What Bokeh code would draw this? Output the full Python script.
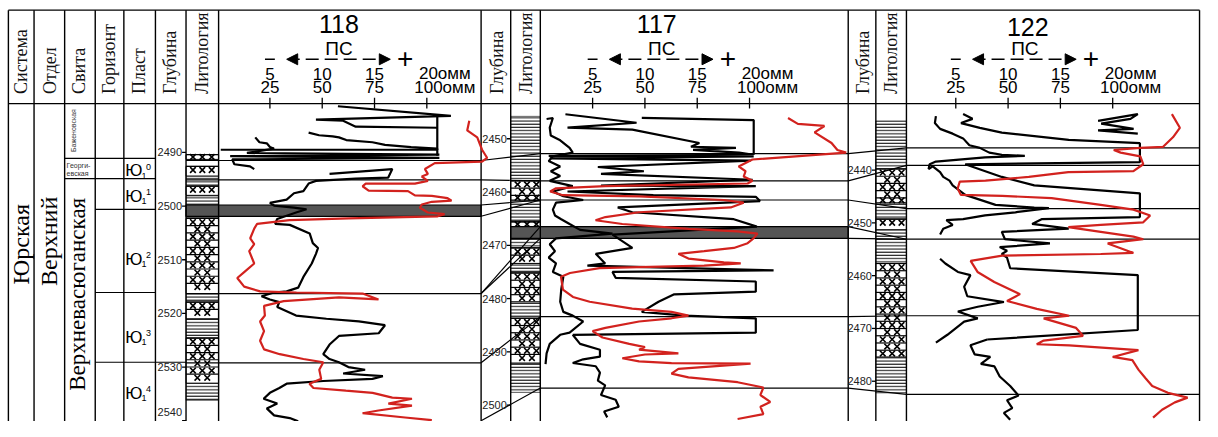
from math import pi
from bokeh.plotting import figure
from bokeh.models import Range1d, Arrow, NormalHead
from bokeh.core.properties import value
from bokeh.embed import file_html
from bokeh.resources import INLINE

# ------------------------------------------------------------------ data
LEFT_HEADERS = ["Система", "Отдел", "Свита", "Горизонт", "Пласт", "Глубина", "Литология"]
WELL_HEADERS = ["Глубина", "Литология"]
WELLS = ["118", "117", "122"]
SCALE_PS = [5, 10, 15, 20]
SCALE_TOP_LABELS = ["5", "10", "15", "20омм"]
SCALE_BOT_LABELS = ["25", "50", "75", "100омм"]
PS_LABEL = "ПС"

SYSTEM_NAME = "Юрская"
SERIES_NAME = "Верхний"
SUITE_NAMES = ["Баженовская", "Георги-", "евская", "Верхневасюганская"]
SUITE_BOUNDS_118 = [2491.1, 2494.9]
PLAST_BOUNDS_118 = [2500.6, 2516.1]
PLAST_BOUND_LOW_118 = [2529.1]
PLAST_INDEX = ["0", "1", "2", "3", "4"]
PLAST_LABEL_DEPTH_118 = [2493.4, 2498.2, 2509.9, 2524.4, 2534.9]

DEPTH_TICKS = {
    "118": [2490, 2500, 2510, 2520, 2530, 2540],
    "117": [2450, 2460, 2470, 2480, 2490, 2500],
    "122": [2440, 2450, 2460, 2470, 2480],
}

SAND = {
    "118": [(2490.4, 2491.3), (2492.6, 2494.4), (2496.3, 2498.0), (2502.3, 2516.3), (2517.9, 2521.0), (2524.6, 2533.0)],
    "117": [(2457.9, 2461.5), (2465.6, 2466.5), (2470.5, 2473.4), (2475.2, 2480.6), (2483.7, 2492.1)],
    "122": [(2439.8, 2446.2), (2449.3, 2451.3), (2457.7, 2475.4)],
}
SHALE = {
    "118": [(2494.4, 2496.2), (2498.1, 2502.1), (2516.3, 2517.9), (2521.0, 2524.6), (2533.0, 2536.2)],
    "117": [(2445.8, 2457.9), (2461.5, 2465.6), (2468.7, 2470.5), (2473.4, 2475.2), (2480.6, 2483.7), (2492.1, 2497.6)],
    "122": [(2430.7, 2439.8), (2446.2, 2449.3), (2451.3, 2457.7), (2475.4, 2482.2)],
}

# horizons (correlation), top / bottom of each marker in each well
HOR_118_TOP = [2491.5, 2495.1, 2499.8, 2516.3, 2529.2, 2540.0]
HOR_118_BOT = [2491.5, 2495.1, 2501.9, 2516.3, 2529.2, 2540.0]
HOR_117_TOP = [2452.8, 2457.9, 2461.5, 2466.5, 2483.4, 2496.8]
HOR_117_BOT = [2452.8, 2457.9, 2461.5, 2468.7, 2483.4, 2496.8]
HOR_122_TOP = [2435.8, 2439.1, 2447.3, 2453.1, 2467.6, 2482.5]
HOR_122_BOT = [2435.8, 2439.1, 2447.3, 2453.1, 2467.6, 2482.5]
TRACK_LINES = {
    "118": [2491.5, 2495.1, 2516.3, 2529.2],
    "117": [2452.8, 2457.9, 2461.5, 2483.4, 2496.8],
    "122": [2435.8, 2439.1, 2447.3, 2453.1, 2467.6, 2482.5],
}
BANDS = {"118": [(2499.8, 2501.9)], "117": [(2466.5, 2468.7)], "122": []}

# PS curves (depth m, PS value) - several pieces per well
PS_118 = [
    [(2481.4, 11.5), (2483.2, 22.3), (2483.9, 9.4), (2484.1, 12.0), (2485.2, 13.2), (2485.4, 21.0)],
    [(2483.2, 21.0), (2490.6, 21.0)],
    [(2486.3, 8.7), (2486.8, 9.7), (2487.0, 11.0), (2487.2, 11.6), (2487.7, 12.3), (2488.1, 14.8), (2488.6, 16.0),
     (2489.0, 18.5), (2489.3, 21.0), (2489.5, 21.0), (2489.5, 0.3)],
    [(2487.2, 3.6), (2488.1, 4.0), (2488.3, 4.7), (2489.0, 5.0), (2489.3, 5.4), (2490.1, 2.8), (2490.4, 21.2),
     (2490.7, 1.2), (2491.0, 21.2), (2491.3, 1.4), (2492.2, 1.6), (2492.6, 3.1), (2493.1, 3.5)],
    [(2494.0, 10.7), (2493.1, 16.7), (2494.7, 16.3), (2494.9, 13.2), (2495.3, 9.4), (2495.8, 8.7), (2497.2, 8.2),
     (2497.6, 7.3), (2498.8, 6.6), (2499.4, 5.0), (2499.9, 5.4), (2500.3, 7.3), (2500.6, 8.5), (2501.2, 7.5),
     (2502.4, 5.7), (2503.3, 5.5), (2503.5, 6.9), (2505.1, 8.8), (2506.9, 9.1), (2507.8, 9.6), (2508.9, 9.4),
     (2510.7, 9.0), (2513.2, 8.2), (2515.2, 7.7), (2515.9, 6.6), (2516.1, 5.4), (2516.8, 4.2), (2517.4, 5.0),
     (2517.9, 5.9), (2518.8, 5.7), (2520.4, 7.5), (2521.0, 10.4), (2521.5, 13.5), (2522.2, 16.0), (2523.7, 15.4),
     (2524.2, 11.6), (2525.8, 10.7), (2527.6, 10.1), (2528.5, 10.7), (2529.1, 11.6), (2530.0, 12.5), (2530.5, 14.1),
     (2531.2, 12.0), (2531.7, 15.8), (2532.2, 14.8), (2532.6, 10.1), (2533.1, 6.6), (2533.9, 5.9), (2534.8, 5.0),
     (2535.9, 4.4), (2536.8, 5.7), (2537.7, 4.7), (2539.0, 5.4), (2539.5, 6.9), (2540.1, 7.7)],
]
PS_117 = [
    [(2446.3, 0.6), (2446.1, 1.2), (2447.9, 0.9), (2449.4, 1.0), (2450.3, 1.9), (2451.7, 2.8), (2452.6, 3.1),
     (2453.3, 1.2), (2454.2, 0.8), (2455.2, 1.9), (2456.1, 1.0), (2457.0, 1.9), (2457.9, 0.9), (2458.9, 3.1),
     (2459.9, 1.2), (2460.8, 2.2), (2461.5, 4.1), (2462.0, 1.5), (2463.3, 1.2), (2464.4, 1.4), (2465.1, 2.0),
     (2466.0, 2.8), (2467.1, 3.8), (2467.8, 6.9), (2468.7, 1.5), (2469.8, 0.9), (2471.1, 1.4), (2472.3, 0.8),
     (2473.4, 1.5), (2475.0, 1.2), (2475.9, 2.2), (2478.3, 2.0), (2480.6, 1.9), (2482.5, 2.2), (2483.2, 3.1),
     (2484.3, 4.1), (2486.4, 2.8), (2486.8, 1.9), (2488.5, 0.9), (2490.3, 0.6), (2492.3, 0.5)],
    [(2446.1, 9.7), (2446.5, 20.4), (2453.0, 20.4)],
    [(2445.4, 2.4), (2447.0, 9.2), (2447.9, 2.6), (2448.3, 8.8), (2450.8, 15.2), (2451.5, 14.4), (2451.7, 18.7),
     (2452.1, 14.6), (2452.6, 19.0), (2453.0, 20.4), (2453.2, 0.8), (2453.3, 20.4), (2453.7, 0.9), (2454.1, 20.1),
     (2455.3, 5.5), (2456.1, 9.9), (2456.6, 5.8), (2457.7, 20.3), (2458.8, 5.8), (2458.9, 20.6), (2459.9, 2.6),
     (2460.6, 10.8), (2460.9, 20.6), (2461.7, 21.0), (2462.9, 7.4), (2463.8, 8.8), (2465.1, 18.5), (2466.5, 20.7),
     (2468.0, 6.9), (2470.5, 8.8), (2471.6, 5.3), (2473.4, 6.2), (2473.8, 4.5), (2474.7, 22.3), (2475.0, 6.9),
     (2476.1, 7.2), (2476.8, 20.6), (2478.7, 20.6), (2479.2, 12.8), (2480.6, 11.3), (2482.5, 9.7), (2483.2, 13.8),
     (2483.7, 20.6), (2486.4, 20.6), (2486.8, 3.1)],
    [(2486.8, 3.1), (2488.5, 3.8), (2489.6, 5.7), (2490.9, 5.7), (2491.4, 4.1), (2492.1, 3.1), (2492.7, 5.3),
     (2493.9, 5.7), (2495.4, 5.5), (2496.3, 6.2), (2498.1, 5.8), (2499.0, 7.2), (2500.3, 7.5), (2501.2, 6.1),
     (2502.3, 6.4)],
]
PS_122 = [
    [(2429.8, 3.1), (2431.1, 3.0), (2432.2, 3.5), (2433.1, 4.7), (2434.0, 5.7), (2435.3, 6.3), (2435.8, 7.3),
     (2436.7, 8.2), (2437.1, 9.4), (2437.3, 11.6), (2437.6, 7.8), (2438.4, 3.1), (2438.9, 2.5), (2439.8, 2.4),
     (2439.3, 2.8), (2440.4, 3.5), (2441.3, 3.8), (2442.0, 4.4), (2442.9, 4.7), (2444.7, 5.9), (2446.6, 8.8),
     (2447.1, 12.5), (2447.2, 13.9), (2448.0, 10.7), (2448.6, 7.8), (2449.3, 5.7), (2449.5, 4.1), (2450.4, 4.7),
     (2451.1, 3.8), (2452.2, 3.5)],
    [(2456.8, 3.5), (2457.7, 4.0), (2459.3, 5.2), (2459.9, 6.4), (2462.1, 5.8), (2463.9, 6.1), (2465.0, 9.6),
     (2465.9, 7.1), (2466.8, 5.2), (2468.1, 7.1), (2468.7, 5.8), (2471.2, 4.2), (2472.7, 3.1)],
    [(2429.4, 5.7), (2430.3, 6.6), (2431.1, 5.5), (2432.0, 7.3), (2432.9, 9.4), (2434.3, 15.8), (2434.9, 22.6),
     (2438.5, 22.6), (2438.9, 5.9), (2441.3, 9.4), (2442.9, 12.5), (2444.4, 22.6), (2448.9, 22.6), (2449.3, 13.2),
     (2450.2, 12.3), (2451.1, 15.8), (2451.7, 9.4), (2453.1, 9.7), (2453.9, 14.0), (2454.6, 9.2), (2455.3, 9.9),
     (2455.9, 9.4), (2456.6, 9.9), (2458.6, 10.2), (2459.9, 22.4), (2470.3, 22.4), (2472.1, 8.0)],
    [(2430.7, 18.6), (2429.4, 22.4), (2430.3, 21.7), (2431.2, 18.9), (2432.2, 22.0), (2432.5, 18.6), (2433.1, 22.4)],
    [(2472.1, 8.0), (2473.2, 6.4), (2474.9, 6.8), (2475.4, 8.3), (2476.7, 7.4), (2477.2, 8.7), (2479.1, 9.2),
     (2480.9, 10.2), (2482.7, 11.0), (2483.6, 9.9), (2485.1, 10.4), (2486.0, 9.6), (2487.3, 10.2)],
]

# resistivity curves (depth m, ohm*m)
RES_118 = [(2484.1, 120.3), (2485.9, 119.3), (2487.2, 124.1), (2489.5, 126.4), (2491.0, 128.8), (2491.7, 126.4),
           (2492.0, 103.8), (2493.1, 99.1), (2494.0, 100.5), (2494.5, 97.6), (2495.3, 100.5), (2495.8, 94.3),
           (2495.8, 70.8), (2496.3, 69.3), (2497.1, 72.2), (2497.2, 91.0), (2498.0, 94.3), (2498.1, 102.4),
           (2498.5, 109.9), (2499.0, 111.8), (2499.2, 102.4), (2499.7, 97.6), (2500.3, 96.7), (2501.2, 100.5),
           (2501.5, 108.5), (2501.9, 105.2), (2502.3, 62.7), (2502.6, 34.4), (2503.3, 18.9), (2504.2, 17.5),
           (2506.0, 15.6), (2507.1, 17.5), (2508.4, 15.1), (2510.7, 17.5), (2512.3, 12.7), (2513.4, 9.4),
           (2515.0, 12.7), (2515.9, 20.3), (2516.1, 37.7), (2516.3, 69.3), (2517.4, 76.9), (2517.0, 58.0),
           (2517.7, 31.6), (2518.6, 22.2), (2520.4, 22.6), (2521.5, 20.3), (2523.3, 22.2), (2525.1, 20.3),
           (2526.7, 22.2), (2527.6, 29.7), (2528.5, 41.0), (2529.1, 50.5), (2530.5, 48.6), (2532.2, 49.5),
           (2533.1, 43.9), (2533.9, 45.8), (2534.4, 61.3), (2534.8, 74.1), (2535.7, 83.5), (2535.9, 92.9),
           (2536.8, 81.6), (2537.2, 92.9), (2538.1, 76.9), (2538.6, 69.3), (2539.4, 89.6), (2539.9, 102.4)]
RES_117 = [(2446.1, 118.4), (2447.2, 123.1), (2447.6, 135.8), (2448.8, 131.1), (2450.8, 139.2), (2452.1, 142.0),
           (2452.6, 146.2), (2453.9, 101.4), (2455.2, 94.8), (2456.1, 98.1), (2457.1, 97.2), (2457.9, 101.4),
           (2458.4, 99.1), (2458.9, 31.1), (2459.3, 7.5), (2459.9, 4.7), (2460.6, 10.8), (2460.8, 47.2),
           (2461.5, 87.7), (2462.0, 97.2), (2462.9, 91.0), (2463.8, 47.2), (2464.7, 31.1), (2465.3, 26.4),
           (2466.0, 39.2), (2466.9, 70.8), (2467.4, 94.3), (2467.8, 103.8), (2468.7, 101.9), (2469.6, 99.1),
           (2470.5, 92.5), (2471.1, 78.3), (2471.6, 66.0), (2472.5, 70.8), (2473.2, 87.7), (2473.4, 95.8),
           (2473.8, 78.3), (2474.1, 47.2), (2474.3, 28.3), (2475.2, 14.2), (2475.9, 9.9), (2478.3, 10.8),
           (2479.7, 15.6), (2480.6, 23.6), (2481.9, 43.9), (2482.5, 62.7), (2483.2, 70.8), (2483.7, 62.7),
           (2484.3, 47.2), (2485.5, 31.1), (2486.1, 25.0), (2487.3, 29.7), (2488.5, 42.5), (2489.1, 50.0),
           (2489.6, 47.2), (2490.3, 66.0), (2490.5, 50.0), (2491.2, 39.2), (2491.8, 47.2), (2492.1, 62.7),
           (2492.2, 100.5), (2493.2, 66.0), (2494.1, 62.7), (2494.8, 70.8), (2495.7, 94.3), (2496.7, 106.6),
           (2498.1, 105.2), (2499.4, 109.9), (2500.3, 105.2), (2501.7, 106.6), (2502.6, 94.3)]
RES_122 = [(2429.4, 128.3), (2432.0, 132.1), (2433.8, 128.8), (2435.6, 124.1), (2435.8, 113.2), (2436.2, 100.5),
           (2436.7, 103.8), (2437.4, 113.2), (2438.9, 114.6), (2440.2, 109.9), (2440.4, 78.8), (2441.3, 59.9),
           (2442.0, 39.2), (2442.2, 26.9), (2443.5, 25.9), (2444.7, 27.4), (2444.9, 47.2), (2445.3, 70.8),
           (2446.6, 94.3), (2447.5, 109.9), (2448.6, 117.9), (2449.9, 114.6), (2450.4, 94.3), (2450.8, 78.8),
           (2451.7, 94.3), (2452.6, 109.9), (2453.1, 114.6), (2453.9, 97.6), (2454.8, 103.8), (2455.7, 109.9),
           (2455.9, 94.3), (2456.2, 47.2), (2457.2, 32.1), (2459.3, 35.4), (2461.2, 43.4), (2463.5, 55.7),
           (2464.8, 49.5), (2466.3, 63.7), (2467.6, 79.2), (2468.1, 67.0), (2469.9, 82.5), (2471.4, 85.8),
           (2472.3, 67.0), (2473.0, 63.7), (2473.2, 79.2), (2474.1, 112.3), (2475.4, 100.0), (2476.0, 109.4),
           (2477.8, 112.3), (2479.4, 115.6), (2480.9, 118.9), (2482.2, 126.4), (2483.1, 135.8), (2484.0, 129.7),
           (2485.4, 123.6), (2486.9, 119.3)]

PS = {"118": PS_118, "117": PS_117, "122": PS_122}
RES = {"118": RES_118, "117": RES_117, "122": RES_122}

# ------------------------------------------------------------------ layout (pixels of the sheet)
SANS = "Liberation Sans"
SERIF = "Liberation Serif"
RED = "#d2221e"
X0, X1, Y0, Y1 = 0, 1218, 0, 437
TOP, HEAD = 10, 107
RIGHT = 1215
COLS = [8, 34, 65, 96, 125, 157, 188, 221, 487, 517, 547, 859, 887, 918, RIGHT]
GEOM = {
    "118": dict(depth=(157, 188), litho=(188, 221), track=(221, 487), x5=273, ref_y=157.7, ref_d=2490, ppm=5.57,
                title=(343, 24)),
    "117": dict(depth=(487, 517), litho=(517, 547), track=(547, 859), x5=600, ref_y=143.5, ref_d=2450, ppm=5.53,
                title=(665, 24)),
    "122": dict(depth=(859, 887), litho=(887, 918), track=(918, RIGHT), x5=968, ref_y=176.0, ref_d=2440, ppm=5.48,
                title=(1041, 27)),
}
PX_PER_PS = 10.6
ROW_PX = 7.5  # height of one row of the sandstone symbol


def depth_at(g, y):
    return g["ref_d"] + (y - g["ref_y"]) / g["ppm"]


def y_of(g, d):
    return g["ref_y"] + (d - g["ref_d"]) * g["ppm"]


def ps_at(g, x):
    return 5 + (x - g["x5"]) / PX_PER_PS


def unzip(pts):
    return [a for a, b in pts], [b for a, b in pts]


p = figure(width=1202, height=421, x_range=Range1d(X0, X1), y_range=Range1d(Y1, Y0),
           x_axis_type=None, y_axis_type=None, output_backend="svg", toolbar_location=None,
           min_border=0, title=None)
p.outline_line_color = None
p.background_fill_color = "white"

p.extra_y_ranges = {f"d{w}": Range1d(depth_at(g, Y1), depth_at(g, Y0)) for w, g in GEOM.items()}
xr = {}
for w, g in GEOM.items():
    xr[f"v{w}"] = Range1d(ps_at(g, X0), ps_at(g, X1))
    xr[f"r{w}"] = Range1d(5 * ps_at(g, X0), 5 * ps_at(g, X1))
p.extra_x_ranges = xr

# ---------------- lithology
for w, g in GEOM.items():
    l0, l1 = g["litho"]
    yr = f"d{w}"
    sh_t, sh_b = unzip(SHALE[w])
    p.quad(left=l0, right=l1, top=sh_t, bottom=sh_b, y_range_name=yr, fill_color="white",
           line_color="black", line_width=0.6, hatch_pattern="horizontal_line", hatch_scale=3.2,
           hatch_weight=1.0, hatch_color="black")
    sa_t, sa_b = unzip(SAND[w])
    p.quad(left=l0, right=l1, top=sa_t, bottom=sa_b, y_range_name=yr, fill_color="white",
           line_color="black", line_width=1.0)
    # sandstone symbol: rows of bricks with X marks, generated inside each interval
    step = ROW_PX / g["ppm"]
    row_y, mx, my = [], [], []
    for top, bot in SAND[w]:
        k = 0
        d = top
        while d + 0.5 * step < bot:
            row_y.append(d)
            yc = d + 0.5 * min(step, bot - d)
            cols = [l0 + 7, l0 + 16.5, l0 + 26] if k % 2 == 0 else [l0 + 11.5, l0 + 21.5]
            for c in cols:
                mx.append(c)
                my.append(yc)
            d += step
            k += 1
    p.segment(x0=l0, x1=l1, y0=row_y, y1=row_y, y_range_name=yr, line_color="black", line_width=1.2)
    p.scatter(mx, my, marker="x", size=8, line_width=1.6, line_color="black", y_range_name=yr)
    # bands
    if BANDS[w]:
        b_t, b_b = unzip(BANDS[w])
        p.quad(left=l0, right=g["track"][1], top=b_t, bottom=b_b, y_range_name=yr,
               fill_color="#555555", line_color="black", line_width=1.2)

# ---------------- frame and column lines
p.segment(x0=[COLS[0], COLS[0]], x1=[RIGHT, RIGHT], y0=[TOP, HEAD], y1=[TOP, HEAD],
          line_color="black", line_width=1.4)
p.segment(x0=COLS, x1=COLS, y0=[TOP] * len(COLS), y1=[Y1] * len(COLS), line_color="black", line_width=1.4)

# stratigraphic boundaries in the left block (scale of well 118)
p.segment(x0=65, x1=157, y0=SUITE_BOUNDS_118, y1=SUITE_BOUNDS_118, y_range_name="d118",
          line_color="black", line_width=1.2)
p.segment(x0=96, x1=157, y0=PLAST_BOUNDS_118, y1=PLAST_BOUNDS_118, y_range_name="d118",
          line_color="black", line_width=1.2)
p.segment(x0=96, x1=188, y0=PLAST_BOUND_LOW_118, y1=PLAST_BOUND_LOW_118, y_range_name="d118",
          line_color="black", line_width=1.2)

# horizon lines inside tracks
for w, g in GEOM.items():
    x0 = g["litho"][0] if w == "118" else g["track"][0]
    p.segment(x0=x0, x1=g["track"][1], y0=TRACK_LINES[w], y1=TRACK_LINES[w], y_range_name=f"d{w}",
              line_color="black", line_width=1.2)

# correlation slants between wells
pairs = [("118", HOR_118_TOP, HOR_118_BOT, "117", HOR_117_TOP, HOR_117_BOT),
         ("117", HOR_117_TOP, HOR_117_BOT, "122", HOR_122_TOP, HOR_122_BOT)]
sx0, sx1, sy0, sy1 = [], [], [], []
for wa, ta, ba, wb, tb, bb in pairs:
    ga, gb = GEOM[wa], GEOM[wb]
    for i in range(len(ta)):
        done = set()
        for da in (ta[i], ba[i]):
            for db in (tb[i], bb[i]):
                if (da, db) in done:
                    continue
                done.add((da, db))
                sx0.append(ga["track"][1]); sy0.append(y_of(ga, da))
                sx1.append(gb["track"][0]); sy1.append(y_of(gb, db))
p.segment(x0=sx0, y0=sy0, x1=sx1, y1=sy1, line_color="black", line_width=1.2)

# ---------------- curves
for w in WELLS:
    xs_, ys_ = [], []
    for piece in PS[w]:
        d, v = unzip(piece)
        xs_.append(v)
        ys_.append(d)
    p.multi_line(xs_, ys_, x_range_name=f"v{w}", y_range_name=f"d{w}", line_color="black", line_width=2.2)
    d, r = unzip(RES[w])
    p.line(r, d, x_range_name=f"r{w}", y_range_name=f"d{w}", line_color=RED, line_width=2.2)

# ---------------- header texts
hx = [21, 50, 80, 110, 140, 172, 204]
p.text(x=hx, y=[97] * len(hx), text=LEFT_HEADERS, angle=pi / 2, text_align="left", text_baseline="middle",
       text_font=value(SERIF), text_font_size="18px", text_color="#111111")
for w in ["117", "122"]:
    g = GEOM[w]
    cx = [(g["depth"][0] + g["depth"][1]) / 2 + 1, (g["litho"][0] + g["litho"][1]) / 2]
    p.text(x=cx, y=[97, 97], text=WELL_HEADERS, angle=pi / 2, text_align="left", text_baseline="middle",
           text_font=value(SERIF), text_font_size="18px", text_color="#111111")

for w, g in GEOM.items():
    x5 = g["x5"]
    tx, ty = g["title"]
    p.text(x=[tx], y=[ty], text=[w], text_align="center", text_baseline="middle",
           text_font=value(SANS), text_font_size="25px")
    p.text(x=[x5 + 70], y=[50], text=[PS_LABEL], text_align="center", text_baseline="middle",
           text_font=value(SANS), text_font_size="19px")
    p.segment(x0=[x5 - 5], x1=[x5 + 5], y0=[61], y1=[61], line_color="black", line_width=1.6)
    p.add_layout(Arrow(start=NormalHead(size=11, fill_color="black", line_color="black"),
                       end=NormalHead(size=11, fill_color="black", line_color="black"),
                       x_start=x5 + 17, y_start=61, x_end=x5 + 122, y_end=61,
                       line_color="black", line_width=1.6, line_dash="13 6"))
    p.text(x=[x5 + 137], y=[60], text=["+"], text_align="center", text_baseline="middle",
           text_font=value(SANS), text_font_size="28px")
    vr = f"v{w}"
    p.text(x=SCALE_PS[:3], y=[76] * 3, text=SCALE_TOP_LABELS[:3], x_range_name=vr, text_align="center",
           text_baseline="middle", text_font=value(SANS), text_font_size="17px")
    p.text(x=SCALE_PS[:3], y=[90] * 3, text=SCALE_BOT_LABELS[:3], x_range_name=vr, text_align="center",
           text_baseline="middle", text_font=value(SANS), text_font_size="17px")
    p.text(x=SCALE_PS[3:], y=[76], text=SCALE_TOP_LABELS[3:], x_range_name=vr, x_offset=18, text_align="center",
           text_baseline="middle", text_font=value(SANS), text_font_size="17px")
    p.text(x=SCALE_PS[3:], y=[90], text=SCALE_BOT_LABELS[3:], x_range_name=vr, x_offset=18, text_align="center",
           text_baseline="middle", text_font=value(SANS), text_font_size="17px")
    p.segment(x0=SCALE_PS, x1=SCALE_PS, y0=[101] * 4, y1=[112] * 4, x_range_name=vr,
              line_color="black", line_width=1.3)
    # depth scale
    d0, d1 = g["depth"]
    ticks = DEPTH_TICKS[w]
    p.segment(x0=d1 - 4, x1=d1, y0=ticks, y1=ticks, y_range_name=f"d{w}", line_color="black", line_width=1.3)
    inner = [t for t in ticks if y_of(g, t) <= Y1 - 10]
    edge = [t for t in ticks if y_of(g, t) > Y1 - 10]
    p.text(x=[d1 - 4] * len(inner), y=inner, text=[str(t) for t in inner], y_range_name=f"d{w}",
           text_align="right", text_baseline="middle", text_font=value(SANS), text_font_size="11px",
           text_color="#222222")
    if edge:
        p.text(x=[d1 - 4] * len(edge), y=edge, text=[str(t) for t in edge], y_range_name=f"d{w}",
               y_offset=-5, text_align="right", text_baseline="bottom", text_font=value(SANS),
               text_font_size="11px", text_color="#222222")

# ---------------- stratigraphy texts
p.text(x=[21], y=[253], text=[SYSTEM_NAME], angle=pi / 2, text_align="center", text_baseline="middle",
       text_font=value(SERIF), text_font_size="24px")
p.text(x=[49], y=[250], text=[SERIES_NAME], angle=pi / 2, text_align="center", text_baseline="middle",
       text_font=value(SERIF), text_font_size="24px")
p.text(x=[78], y=[305], text=[SUITE_NAMES[3]], angle=pi / 2, text_align="center", text_baseline="middle",
       text_font=value(SERIF), text_font_size="23px")
p.text(x=[74], y=[135], text=[SUITE_NAMES[0]], angle=pi / 2, text_align="center", text_baseline="middle",
       text_font=value(SANS), text_font_size="7px", text_color="#333333")
p.text(x=[67, 67], y=[171, 180], text=SUITE_NAMES[1:3], text_align="left", text_baseline="middle",
       text_font=value(SANS), text_font_size="7px", text_color="#333333")

n = len(PLAST_LABEL_DEPTH_118)
p.text(x=[135] * n, y=PLAST_LABEL_DEPTH_118, text=["Ю"] * n, y_range_name="d118", text_align="center",
       text_baseline="middle", text_font=value(SANS), text_font_size="17px")
p.text(x=[145.5] * n, y=PLAST_LABEL_DEPTH_118, text=["1"] * n, y_range_name="d118", y_offset=5,
       text_align="center", text_baseline="middle", text_font=value(SANS), text_font_size="9px")
p.text(x=[150] * n, y=PLAST_LABEL_DEPTH_118, text=PLAST_INDEX, y_range_name="d118", y_offset=-4,
       text_align="center", text_baseline="middle", text_font=value(SANS), text_font_size="9px")

open("out.html", "w").write(file_html(p, INLINE, "Well correlation"))
